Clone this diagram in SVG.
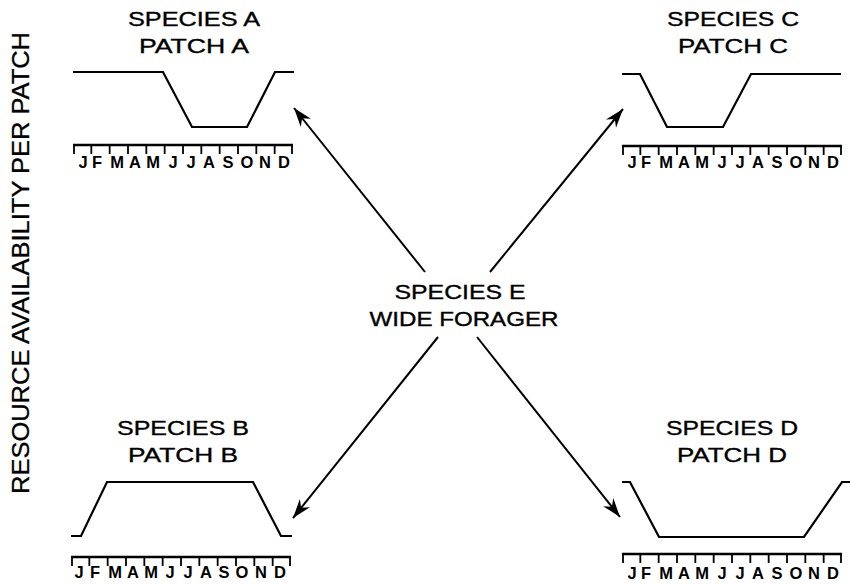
<svg xmlns="http://www.w3.org/2000/svg" xmlns:xlink="http://www.w3.org/1999/xlink" width="850" height="585" viewBox="0 0 850 585">
  <style>
    .curve { fill: none; stroke: #000; stroke-width: 2.2; stroke-linejoin: miter; }
    .axis { fill: none; stroke: #000; stroke-width: 2.4; }
    .tick { fill: none; stroke: #000; stroke-width: 1.8; }
    .title { font-family: "Liberation Sans", Arial, sans-serif; font-size: 20px; text-anchor: middle; fill: #000; stroke: #000; stroke-width: 0.35; }
    .month { font-family: "Liberation Sans", Arial, sans-serif; font-size: 16.5px; font-weight: bold; text-anchor: middle; fill: #000; }
    .ylabel { font-family: "Liberation Sans", Arial, sans-serif; font-size: 23px; text-anchor: middle; fill: #000; stroke: #000; stroke-width: 0.3; }
    .link { fill: none; stroke: #000; stroke-width: 2; }
  </style>
  <defs>
    <!-- month axis: 220 px baseline with 13 tick marks hanging down -->
    <g id="monthAxis">
      <path class="axis" d="M0,0 H220"/>
      <path class="tick" d="M1,0 v9 M18.33,0 v9 M36.67,0 v9 M55,0 v9 M73.33,0 v9 M91.67,0 v9 M110,0 v9 M128.33,0 v9 M146.67,0 v9 M165,0 v9 M183.33,0 v9 M201.67,0 v9 M219,0 v9"/>
    </g>
    <marker id="arrow" viewBox="-20 -8 22 16" refX="0" refY="0" markerWidth="22" markerHeight="16" markerUnits="userSpaceOnUse" orient="auto">
      <path d="M0,0 L-19,-6.5 L-13,0 L-19,6.5 Z" fill="#000"/>
    </marker>
  </defs>

  <rect width="850" height="585" fill="#fff"/>

  <!-- vertical axis label -->
  <text class="ylabel" transform="translate(29,263) rotate(-90)" textLength="462" lengthAdjust="spacingAndGlyphs">RESOURCE AVAILABILITY PER PATCH</text>

  <!-- Patch A -->
  <g id="patchA">
    <text class="title" x="194" y="26" textLength="132" lengthAdjust="spacingAndGlyphs">SPECIES A</text>
    <text class="title" x="194" y="53" textLength="110" lengthAdjust="spacingAndGlyphs">PATCH A</text>
    <path class="curve" d="M73,72 H163 L192,127 H247 L275,72 H294"/>
    <use xlink:href="#monthAxis" x="73" y="145"/>
    <text class="month" x="83 97 117 135 153 173 191 209 228 247 265 284" y="168">JFMAMJJASOND</text>
  </g>

  <!-- Patch C -->
  <g id="patchC">
    <text class="title" x="733" y="26" textLength="132" lengthAdjust="spacingAndGlyphs">SPECIES C</text>
    <text class="title" x="733" y="53" textLength="110" lengthAdjust="spacingAndGlyphs">PATCH C</text>
    <path class="curve" d="M622,74 H640 L667,127 H723 L751,74 H841"/>
    <use xlink:href="#monthAxis" x="622" y="146"/>
    <text class="month" x="632 646 666 684 702 722 740 758 777 796 814 833" y="168">JFMAMJJASOND</text>
  </g>

  <!-- Patch B -->
  <g id="patchB">
    <text class="title" x="183" y="435" textLength="132" lengthAdjust="spacingAndGlyphs">SPECIES B</text>
    <text class="title" x="183" y="462" textLength="110" lengthAdjust="spacingAndGlyphs">PATCH B</text>
    <path class="curve" d="M71,536 H81 L107,482 H253 L281,536 H292"/>
    <use xlink:href="#monthAxis" x="71" y="557"/>
    <text class="month" x="79 95 115 133 151 170 188 206 224 242 261 280" y="578">JFMAMJJASOND</text>
  </g>

  <!-- Patch D -->
  <g id="patchD">
    <text class="title" x="732" y="435" textLength="132" lengthAdjust="spacingAndGlyphs">SPECIES D</text>
    <text class="title" x="732" y="462" textLength="110" lengthAdjust="spacingAndGlyphs">PATCH D</text>
    <path class="curve" d="M622,482 H630 L659,537 H804 L842,482 H850"/>
    <use xlink:href="#monthAxis" x="622" y="554"/>
    <text class="month" x="632 646 666 684 702 722 740 758 777 796 814 833" y="579">JFMAMJJASOND</text>
  </g>

  <!-- Wide forager -->
  <g id="speciesE">
    <text class="title" x="460" y="299" textLength="131" lengthAdjust="spacingAndGlyphs">SPECIES E</text>
    <text class="title" x="464" y="326" textLength="189" lengthAdjust="spacingAndGlyphs">WIDE FORAGER</text>
  </g>

  <!-- connectors from the wide forager to each patch -->
  <g id="connectors">
    <line class="link" x1="425" y1="272" x2="294" y2="108" marker-end="url(#arrow)"/>
    <line class="link" x1="490" y1="272" x2="623" y2="109" marker-end="url(#arrow)"/>
    <line class="link" x1="438" y1="337" x2="293" y2="518" marker-end="url(#arrow)"/>
    <line class="link" x1="477" y1="337" x2="620" y2="517" marker-end="url(#arrow)"/>
  </g>
</svg>
